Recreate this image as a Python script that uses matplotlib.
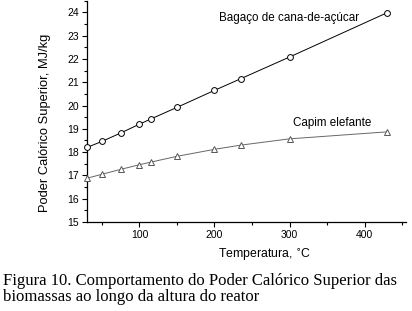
import matplotlib.pyplot as plt
from matplotlib.ticker import MultipleLocator

plt.rcParams["font.family"] = ["Liberation Sans", "DejaVu Sans"]

# temperatura (°C) e PCS (MJ/kg)
temperatura = [30, 50, 75, 100, 115, 150, 200, 235, 300, 430]
bagaco = [18.20, 18.46, 18.82, 19.20, 19.42, 19.92, 20.65, 21.15, 22.08, 23.98]
capim = [16.88, 17.05, 17.26, 17.46, 17.57, 17.82, 18.12, 18.30, 18.57, 18.87]

W, H = 412, 311
fig = plt.figure(figsize=(W / 100, H / 100), dpi=100)
ax = fig.add_axes([0.211, 0.286, 0.774, 0.712])

ax.plot(temperatura, bagaco, color="black", linewidth=0.7, marker="o",
        markersize=4.2, markerfacecolor="white", markeredgecolor="black",
        markeredgewidth=0.7, clip_on=False, zorder=3)
ax.plot(temperatura, capim, color="#666666", linewidth=0.7, marker="^",
        markersize=4.2, markerfacecolor="white", markeredgecolor="#555555",
        markeredgewidth=0.7, clip_on=False, zorder=3)

ax.text(300, 23.75, "Bagaço de cana-de-açúcar", ha="center", va="center",
        fontsize=8.4)
ax.text(357, 19.25, "Capim elefante", ha="center", va="center", fontsize=8.4)

ax.set_xlim(30, 455)
ax.set_ylim(15, 24.5)
ax.xaxis.set_major_locator(MultipleLocator(100))
ax.xaxis.set_minor_locator(MultipleLocator(50))
ax.yaxis.set_major_locator(MultipleLocator(1))
ax.yaxis.set_minor_locator(MultipleLocator(0.5))
ax.tick_params(which="major", direction="out", length=3.5, width=0.8,
               labelsize=7.5, pad=2)
ax.tick_params(which="minor", direction="out", length=2, width=0.8)
for s in ("top", "right"):
    ax.spines[s].set_visible(False)
for s in ("left", "bottom"):
    ax.spines[s].set_linewidth(0.9)

fig.text(265 / W, 1 - 255 / H, "Temperatura, $^{\\circ}$C", ha="center",
         va="center", fontsize=8.8)
fig.text(45 / W, 1 - 123 / H, "Poder Calórico Superior, MJ/kg", ha="center",
         va="center", rotation=90, fontsize=9.3)

fig.text(0.008, 1 - 289 / H,
         "Figura 10. Comportamento do Poder Calórico Superior das\n"
         "biomassas ao longo da altura do reator", ha="left", va="center",
         fontsize=12, family="Liberation Serif", linespacing=0.95)

fig.savefig("out.png", dpi=100)
